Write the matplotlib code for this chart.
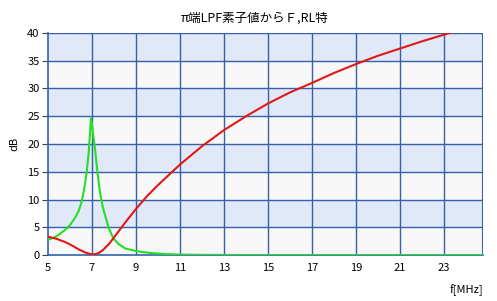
import matplotlib
matplotlib.use('Agg')
import matplotlib.pyplot as plt
import numpy as np

plt.rcParams['font.family'] = ['Noto Sans CJK JP', 'DejaVu Sans']

# data
title = 'π端LPF素子値からＦ,RL特'
x_ticks = [5, 7, 9, 11, 13, 15, 17, 19, 21, 23]
y_ticks = [0, 5, 10, 15, 20, 25, 30, 35, 40]

red_f = [5.0, 5.4, 5.8, 6.1, 6.4, 6.7, 6.95, 7.1, 7.3, 7.5, 7.75, 7.97, 8.5, 9.0, 9.5, 10.0, 11.0, 12.0,
         13.0, 14.0, 15.0, 16.0, 17.0, 18.0, 19.0, 20.0, 21.0, 22.0, 23.0, 23.5]
red_db = [3.3, 2.9, 2.3, 1.7, 1.0, 0.45, 0.15, 0.12, 0.35, 0.9, 1.9, 3.0, 5.8, 8.3, 10.6, 12.6, 16.3, 19.6,
          22.5, 25.0, 27.3, 29.3, 31.0, 32.8, 34.4, 35.9, 37.2, 38.5, 39.7, 40.3]

green_f = [5.0, 5.4, 5.77, 6.0, 6.23, 6.4, 6.53, 6.65, 6.76, 6.85, 6.92, 6.95, 6.99, 7.06, 7.14, 7.25,
           7.36, 7.47, 7.59, 7.75, 7.97, 8.2, 8.5, 8.9, 9.26, 9.7, 10.3, 11.0, 12.0, 14.0, 24.8]
green_db = [2.7, 3.4, 4.5, 5.4, 6.7, 8.0, 9.6, 12.0, 15.0, 18.5, 22.5, 24.6, 23.8, 21.5, 19.0, 14.8,
            11.4, 9.0, 7.2, 5.0, 3.0, 2.0, 1.2, 0.8, 0.55, 0.35, 0.18, 0.08, 0.03, 0.0, 0.0]

fig = plt.figure(figsize=(4.97, 3.01), dpi=100)
ax = fig.add_axes([48/497, 46/301, 435/497, 222/301])

xmax = 5 + 435/22
ax.set_xlim(5, xmax)
ax.set_ylim(0, 40)

# alternating bands
for i, lo in enumerate(y_ticks[:-1]):
    col = '#f7f7f7' if i % 2 == 0 else '#e1e9f8'
    ax.axhspan(lo, lo + 5, color=col, zorder=0, lw=0)

grid_col = '#3461aa'
for xv in x_ticks[1:]:
    ax.axvline(xv, color=grid_col, lw=1, zorder=1)
ax.axvline(xmax, color=grid_col, lw=1.5, zorder=1)
for yv in y_ticks[1:]:
    ax.axhline(yv, color=grid_col, lw=1, zorder=1)

ax.plot(green_f, green_db, color='#22e022', lw=1.5, zorder=3, solid_joinstyle='round')
ax.plot(red_f, red_db, color='#e01818', lw=1.5, zorder=4, solid_joinstyle='round')

for s in ['top', 'right']:
    ax.spines[s].set_visible(False)
for s in ['left', 'bottom']:
    ax.spines[s].set_color(grid_col)
    ax.spines[s].set_linewidth(1.2)

ax.set_xticks(x_ticks)
ax.set_yticks(y_ticks)
ax.tick_params(axis='x', length=0, pad=6, labelsize=8)
ax.tick_params(axis='y', length=4, color='#404040', pad=2, labelsize=8)

ax.set_ylabel('dB', fontsize=8, labelpad=6)
fig.text(483/497, 11/301, 'f[MHz]', ha='right', va='center', fontsize=8)
fig.text(255/497, 283/301, title, ha='center', va='center', fontsize=9)

fig.savefig('out.png', dpi=100)
